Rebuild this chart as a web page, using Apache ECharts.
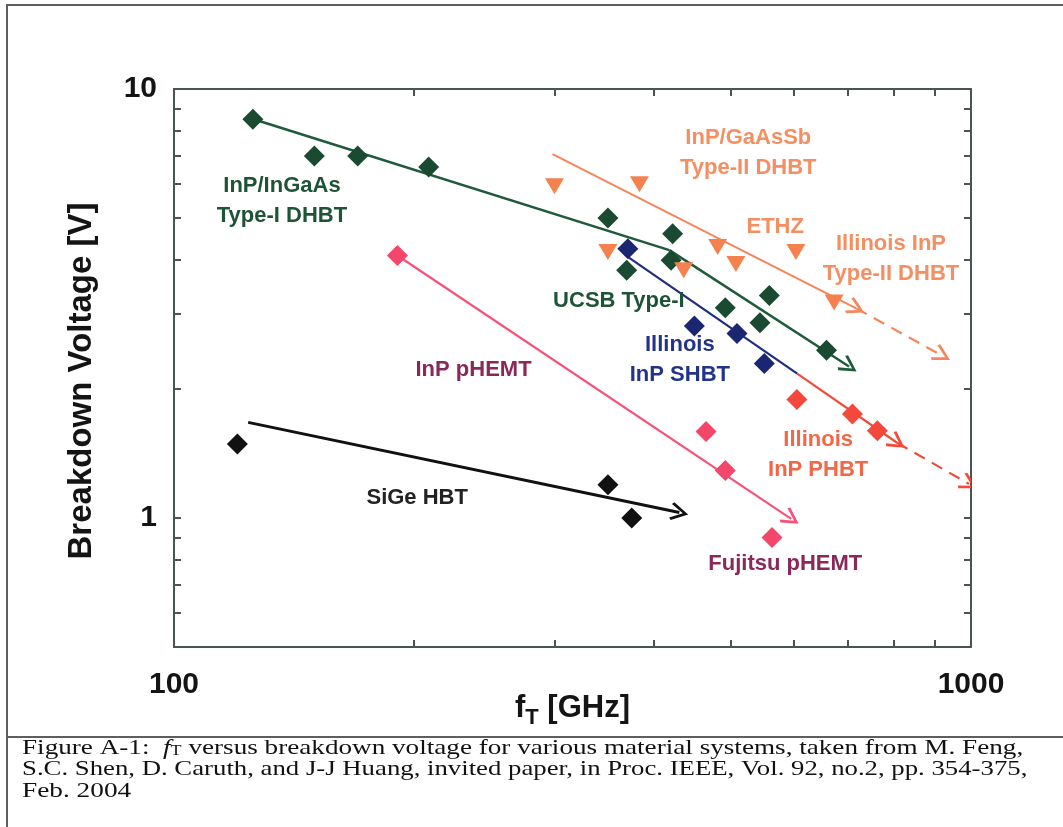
<!DOCTYPE html>
<html><head><meta charset="utf-8">
<script src="https://cdn.jsdelivr.net/npm/echarts@6/dist/echarts.min.js"></script>
<style>html,body{margin:0;padding:0;background:#fff}#c{width:1063px;height:827px}</style>
</head><body><div id="c"></div>
<script>
// ---- axis ticks / labels ----
const xTickValues = [100, 200, 300, 400, 500, 600, 700, 800, 900, 1000];
const xLabelValues = [100, 1000];
const yTickValues = [0.5, 0.6, 0.7, 0.8, 0.9, 1, 2, 3, 4, 5, 6, 7, 8, 9, 10];
const yLabelValues = [1, 10];

// ---- measured points [fT (GHz), BV (V)] ----
const inGaAsDHBT = [[125.6, 8.5], [150, 6.98], [170, 6.98], [208.7, 6.58]];
const ucsbTypeI = [[350.3, 5.0], [422.3, 4.6], [420.4, 3.99], [369.8, 3.78], [558.4, 3.3], [491.7, 3.09], [543.5, 2.85], [658.7, 2.46]];
const illinoisSHBT = [[371, 4.24], [449.7, 2.8], [508.6, 2.69], [550.4, 2.29]];
const illinoisPHBT = [[604.7, 1.887], [710, 1.747], [763, 1.597]];
const inpPHEMT = [[190.7, 4.09], [465.1, 1.59], [491.7, 1.29]];
const fujitsuPHEMT = [[562.8, 0.90]];
const sigeHBT = [[120.1, 1.487], [350.3, 1.194], [375.3, 1.0]];
const typeIIDHBT = [[300.2, 5.93], [383.7, 6.0], [350.3, 4.17], [436, 3.78], [481, 4.28], [507, 3.91], [603, 4.17], [673.4, 3.18]];

// ---- trend lines ----
const trendInGaAs = [[125.6, 8.51], [418.3, 4.21], [703, 2.254]];
const trendTypeII = [[298.5, 7.05], [717.8, 3.08], [919.8, 2.39]];
const trendSHBT = [[371, 4.06], [605.3, 2.17], [807.7, 1.497], [994, 1.20]];
const trendPHEMT = [[190.7, 4.09], [594.8, 0.995]];
const trendSiGe = [[123.9, 1.67], [430.6, 1.029]];

// ---- annotations ----
const annotationTexts = ['InP/InGaAs\nType-I DHBT', 'InP/GaAsSb\nType-II DHBT', 'ETHZ', 'Illinois InP\nType-II DHBT', 'UCSB Type-I', 'Illinois\nInP SHBT', 'InP pHEMT', 'Illinois\nInP PHBT', 'Fujitsu pHEMT', 'SiGe HBT'];
const annotationAnchors = [[136.6, 5.47], [525.5, 7.09], [568, 4.77], [793.6, 4.01], [361.6, 3.21], [431.2, 2.34], [237.6, 2.21], [643, 1.40], [584.8, 0.781], [201.9, 1.115]];

const C = {
  green: '#1b4a32', greenLine: '#1e5a3c', greenText: '#1e5337',
  orange: '#f5814f', orangeLine: '#f5875c', orangeText: '#f48f62',
  blue: '#1b2673', blueLine: '#202c82', blueText: '#24338a',
  red: '#f4483a', redLine: '#f24b3b', redText: '#f36646',
  pink: '#f4456a', pinkLine: '#f5537a', purpleText: '#8a285a',
  black: '#111111', blackText: '#222222', axis: '#4b5454'
};
const annotationColors = [C.greenText, C.orangeText, C.orangeText, C.orangeText, C.greenText, C.blueText, C.purpleText, C.redText, C.purpleText, C.blackText];

const FONT = '"Liberation Sans", Arial, sans-serif';
const chevron = 'path://M5,0 L10,8.8 L8.8,9.9 L5,3.0 L1.2,9.9 L0,8.8 Z';

function seg(a, b, color, width, arrow, dashed) {
  return {
    coords: [a, b],
    symbol: ['none', arrow ? chevron : 'none'],
    symbolSize: [20, 18],
    lineStyle: { color: color, width: width, type: dashed ? [12, 8] : 'solid', opacity: 1, curveness: 0 }
  };
}

const lineSegs = [
  seg(trendInGaAs[0], trendInGaAs[1], C.greenLine, 2.5, false),
  seg(trendInGaAs[1], trendInGaAs[2], C.greenLine, 2.5, true),
  seg(trendTypeII[0], trendTypeII[1], C.orangeLine, 2.2, true),
  seg(trendTypeII[1], trendTypeII[2], C.orangeLine, 2.2, true, true),
  seg(trendSHBT[0], trendSHBT[1], C.blueLine, 2.2, false),
  seg(trendSHBT[1], trendSHBT[2], C.redLine, 2.2, true),
  seg(trendSHBT[2], trendSHBT[3], C.redLine, 2.2, true, true),
  seg(trendPHEMT[0], trendPHEMT[1], C.pinkLine, 2.2, true),
  seg(trendSiGe[0], trendSiGe[1], C.black, 3, true)
];

function diamonds(data, color) {
  return { type: 'scatter', data: data, symbol: 'diamond', symbolSize: 21, z: 5,
    itemStyle: { color: color, opacity: 1 }, emphasis: { disabled: true } };
}

function axisCommon(pos, ticks, labels, isX) {
  return {
    type: 'log', logBase: 10, position: pos,
    min: isX ? 100 : 0.5, max: isX ? 1000 : 10,
    nameMoveOverlap: false,
    axisLine: { show: true, onZero: false, lineStyle: { color: C.axis, width: 2 } },
    axisTick: { show: true, inside: true, length: 7, customValues: ticks, lineStyle: { color: C.axis, width: 2 } },
    axisLabel: labels ? { show: true, customValues: labels, margin: isX ? 23 : 17, fontSize: 30, fontWeight: 'bold', color: '#141414', fontFamily: FONT,
      formatter: function (v) { return String(Math.round(v)); } } : { show: false },
    splitLine: { show: false }, minorTick: { show: false }, minorSplitLine: { show: false }
  };
}

const xBottom = Object.assign(axisCommon('bottom', xTickValues, xLabelValues, true), {
  name: '{m|f}{s|T}{m| [GHz]}', nameLocation: 'middle', nameGap: 46,
  nameTextStyle: { color: '#141414', fontFamily: FONT, rich: {
    m: { fontSize: 31, fontWeight: 'bold', fontFamily: FONT, color: '#141414', verticalAlign: 'bottom', padding: [0, 0, 5, 0] },
    s: { fontSize: 22, fontWeight: 'bold', fontFamily: FONT, color: '#141414', verticalAlign: 'bottom' } } }
});
const xTop = axisCommon('top', xTickValues, null, true);
const yLeft = Object.assign(axisCommon('left', yTickValues, yLabelValues, false), {
  name: 'Breakdown Voltage [V]', nameLocation: 'middle', nameGap: 76, nameRotate: 90,
  nameTextStyle: { fontSize: 33, fontWeight: 'bold', color: '#141414', fontFamily: FONT, padding: [0, 26, 0, 0] }
});
const yRight = axisCommon('right', yTickValues, null, false);

const SERIF = '"Liberation Serif", "Times New Roman", serif';
const captionRich = {
  i: { fontStyle: 'italic', fontSize: 21, fontFamily: SERIF, fill: '#111' },
  s: { fontSize: 14, fontFamily: SERIF, fill: '#111', verticalAlign: 'bottom' }
};
const captionLines = [
  'Figure A-1:  {i|f}{s|T} versus breakdown voltage for various material systems, taken from M. Feng,',
  'S.C. Shen, D. Caruth, and J-J Huang, invited paper, in Proc. IEEE, Vol. 92, no.2, pp. 354-375,',
  'Feb. 2004'
];
const captionScale = [1.293, 1.274, 1.3];

const captionGraphics = captionLines.map(function (t, i) {
  return { type: 'text', silent: true, x: 22, y: 748 + i * 21.7, scaleX: captionScale[i],
    style: { text: t, rich: captionRich, fontSize: 21, fontFamily: SERIF, fill: '#111', verticalAlign: 'middle' } };
});

const chart = echarts.init(document.getElementById('c'), null, { renderer: 'canvas' });
chart.setOption({
  backgroundColor: '#ffffff',
  animation: false,
  grid: { left: 174, right: 92, top: 89, bottom: 180, containLabel: false },
  xAxis: [xBottom, xTop],
  yAxis: [yLeft, yRight],
  series: [
    { type: 'lines', coordinateSystem: 'cartesian2d', data: lineSegs, z: 3, silent: true, polyline: false },
    diamonds(inGaAsDHBT, C.green),
    diamonds(ucsbTypeI, C.green),
    diamonds(illinoisSHBT, C.blue),
    diamonds(illinoisPHBT, C.red),
    diamonds(inpPHEMT, C.pink),
    diamonds(fujitsuPHEMT, C.pink),
    diamonds(sigeHBT, C.black),
    { type: 'scatter', data: typeIIDHBT, symbol: 'triangle', symbolRotate: 180, symbolSize: [19, 16], z: 5,
      itemStyle: { color: C.orange, opacity: 1 }, emphasis: { disabled: true } },
    { type: 'scatter', z: 6, silent: true, symbol: 'circle', symbolSize: 1,
      itemStyle: { color: 'rgba(0,0,0,0)', opacity: 1 },
      data: annotationAnchors.map(function (p, i) { return {
        value: p,
        label: { show: true, position: 'inside', formatter: annotationTexts[i], color: annotationColors[i],
          fontSize: 22, fontWeight: 'bold', fontFamily: FONT, lineHeight: 30, align: 'center', verticalAlign: 'middle' }
      }; })
    }
  ],
  graphic: [
    { type: 'rect', silent: true, shape: { x: 7, y: 5, width: 1062, height: 830 }, style: { fill: 'none', stroke: '#5e5e5e', lineWidth: 2 } },
    { type: 'line', silent: true, shape: { x1: 7, y1: 737, x2: 1063, y2: 737 }, style: { stroke: '#5e5e5e', lineWidth: 2 } }
  ].concat(captionGraphics)
});
</script>
</body></html>
